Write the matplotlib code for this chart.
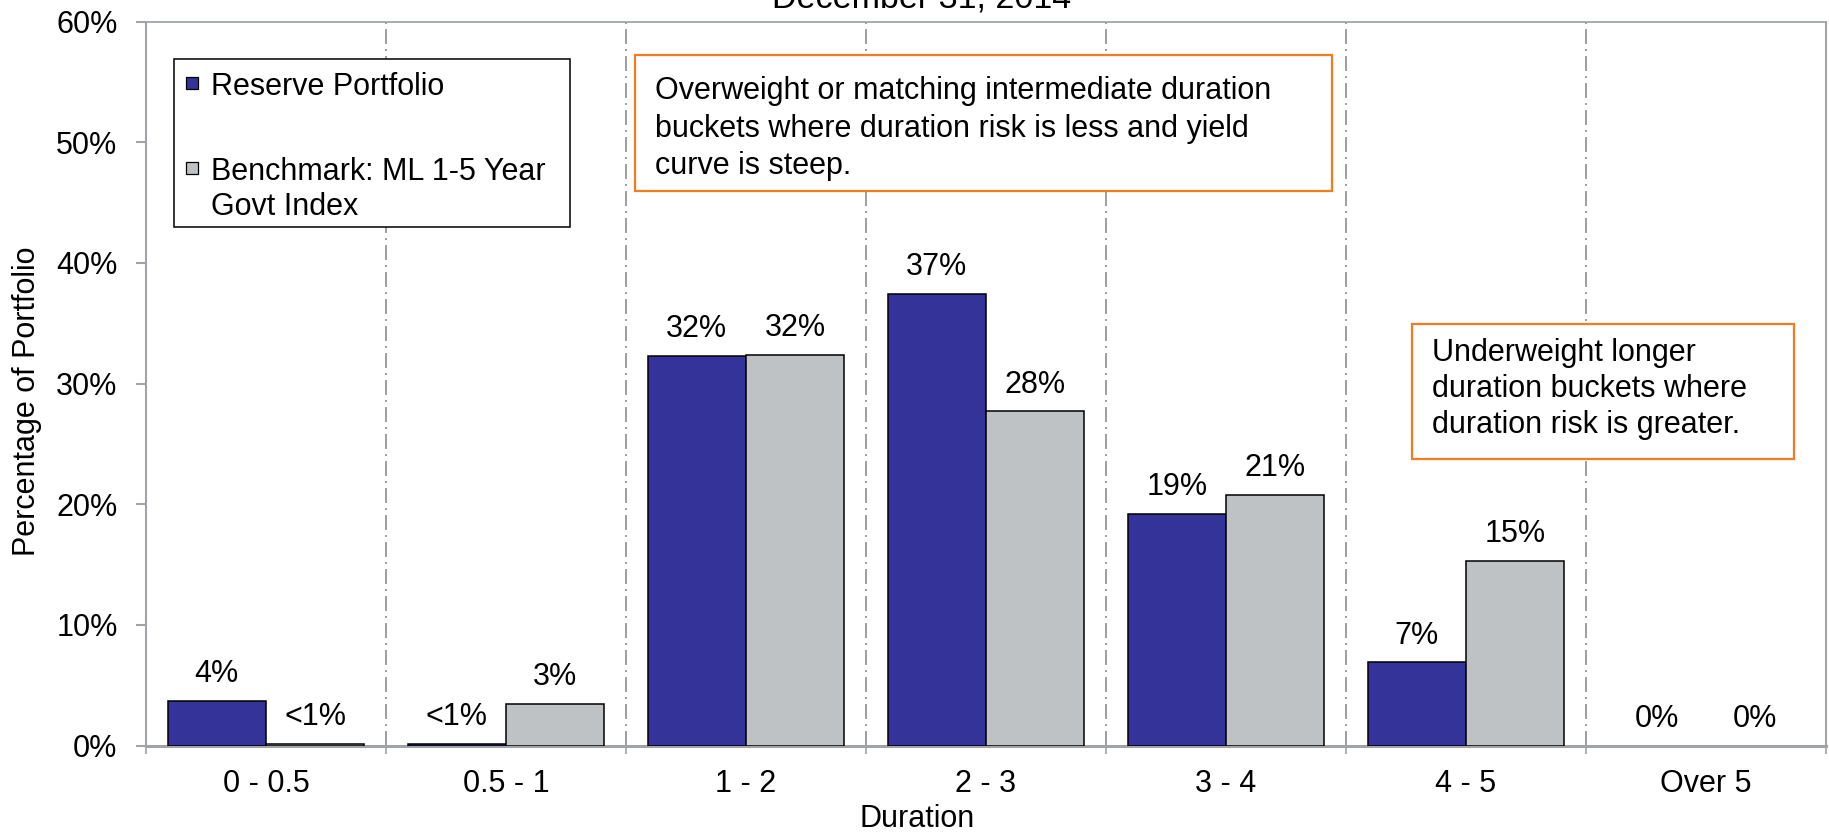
import matplotlib
matplotlib.use("Agg")
import matplotlib.pyplot as plt
from matplotlib.patches import Rectangle
import numpy as np

plt.rcParams['font.family'] = ['Liberation Sans', 'DejaVu Sans']

# duration buckets and portfolio weights (percent)
buckets = ['0 - 0.5', '0.5 - 1', '1 - 2', '2 - 3', '3 - 4', '4 - 5', 'Over 5']
reserve = [3.7, 0.15, 32.3, 37.45, 19.2, 6.9, 0.0]
benchmark = [0.15, 3.45, 32.4, 27.7, 20.8, 15.3, 0.0]
series_names = ['Reserve Portfolio', 'Benchmark: ML 1-5 Year\nGovt Index']
y_ticks = [0, 10, 20, 30, 40, 50, 60]

note_mid = ('Overweight or matching intermediate duration\n'
            'buckets where duration risk is less and yield\n'
            'curve is steep.')
note_long = ('Underweight longer\n'
             'duration buckets where\n'
             'duration risk is greater.')

W, H = 1829, 832
BLUE = '#333399'
GREY = '#BFC2C5'
AXIS_GREY = '#A0A4A8'
GRID_GREY = '#8E8E8E'
ORANGE = '#F47B20'
FS = 22
ASCENT = 22  # px from the top of a text line to its baseline at FS


def fx(px):
    return px / W


def fy(py):
    return 1 - py / H


def pct_label(v):
    if v == 0:
        return '0%'
    if v < 1:
        return '<1%'
    return '%d%%' % round(v)


def note_box(x0, y0, x1, y1, edge, lw):
    fig.add_artist(Rectangle((fx(x0), fy(y1)), fx(x1) - fx(x0), fy(y0) - fy(y1),
                             transform=fig.transFigure, facecolor='white',
                             edgecolor=edge, lw=lw, zorder=5))


def lines_at(x, baseline, s, ls):
    # place a block of text by the baseline of its first line
    fig.text(fx(x), fy(baseline - ASCENT), s, fontsize=FS, va='top', ha='left',
             linespacing=ls, zorder=6)


fig = plt.figure(figsize=(W / 100, H / 100), dpi=100)
ax = fig.add_axes([fx(146), fy(745.5), fx(1826) - fx(146), fy(21.7) - fy(745.5)])

x = np.arange(len(buckets))
bw = 0.41
b1 = ax.bar(x - bw / 2, reserve, bw, color=BLUE, edgecolor='black',
            linewidth=[1.1 if v > 0 else 0 for v in reserve], zorder=3)
b2 = ax.bar(x + bw / 2, benchmark, bw, color=GREY, edgecolor='black',
            linewidth=[1.1 if v > 0 else 0 for v in benchmark], zorder=3)

for bars, vals in ((b1, reserve), (b2, benchmark)):
    for rect, v in zip(bars, vals):
        ax.annotate(pct_label(v), (rect.get_x() + rect.get_width() / 2, v),
                    xytext=(0, 13.5), textcoords='offset points',
                    ha='center', va='baseline', fontsize=FS)

ax.set_xlim(-0.5, len(buckets) - 0.5)
ax.set_ylim(0, 60)
ax.set_yticks(y_ticks)
ax.set_yticklabels(['%d%%' % t for t in y_ticks])
ax.set_xticks(x)
ax.set_xticklabels(buckets)
ax.set_xticks(np.arange(len(buckets) + 1) - 0.5, minor=True)
ax.tick_params(axis='x', which='major', length=0, pad=17, labelsize=FS)
ax.tick_params(axis='x', which='minor', length=6, width=1.2, color=AXIS_GREY, direction='out')
ax.tick_params(axis='y', length=7, width=1.5, color=AXIS_GREY, pad=13.5, labelsize=FS)

# dash-dot separators between buckets
for xb in np.arange(1, len(buckets)) - 0.5:
    ax.axvline(xb, color=GRID_GREY, lw=1.2, dashes=(9, 3, 1.2, 3), zorder=1)

for side, lw in (('left', 1.5), ('right', 1.5), ('top', 1.3), ('bottom', 2.2)):
    ax.spines[side].set_color(AXIS_GREY)
    ax.spines[side].set_linewidth(lw)

# legend drawn by hand so the marker sits on the first line of a wrapped label
note_box(174, 59, 570, 227, 'black', 1.1)
for cy, col, name in zip((83, 168), (BLUE, GREY), series_names):
    fig.add_artist(Rectangle((fx(186), fy(cy + 6)), 12 / W, 12 / H, transform=fig.transFigure,
                             facecolor=col, edgecolor='black', lw=0.9, zorder=6))
    lines_at(211, cy + 11, name, 1.2)

# commentary boxes
note_box(634.7, 55, 1332, 190.7, ORANGE, 1.6)
lines_at(655, 98.5, note_mid, 1.32)
note_box(1411.7, 324, 1794, 459, ORANGE, 1.6)
lines_at(1431.7, 360, note_long, 1.27)

fig.text(fx(922), fy(8), 'December 31, 2014', fontsize=24.5, ha='center', va='baseline')
fig.text(fx(27), fy(401), 'Percentage of Portfolio', fontsize=FS, rotation=90,
         ha='center', va='center')
fig.text(fx(917), fy(827), 'Duration', fontsize=FS, ha='center', va='baseline')

fig.savefig('out.png', dpi=100)
